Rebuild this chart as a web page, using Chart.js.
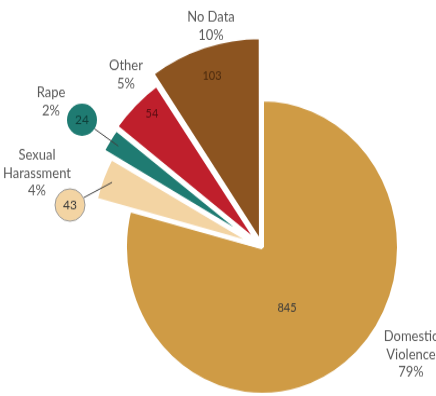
<!DOCTYPE html>
<html>
<head>
<meta charset="utf-8">
<script src="https://cdn.jsdelivr.net/npm/chart.js@4/dist/chart.umd.min.js"></script>
<style>
  html, body { margin: 0; padding: 0; background: #fff; }
  body { width: 436px; height: 396px; overflow: hidden; }
  #wrap { width: 436px; height: 367px; transform: scale(1, 1.079); transform-origin: 0 0; }
</style>
</head>
<body>
<div id="wrap"><canvas id="pie" width="436" height="367"></canvas></div>
<script>
const categories = [["Domestic", "Violence"], ["Sexual", "Harassment"], ["Rape"], ["Other"], ["No Data"]];
const cases = [845, 43, 24, 54, 103];

const sliceColors = ["#CF9B45", "#F3D4A3", "#1F7B72", "#BF1F2C", "#8C5420"];
const valueColors = ["#3a3a3a", "#3a3a3a", "#0e3e39", "#5c0d13", "#4b2a0e"];
const sliceReach = [137, 166, 176, 178, 190];   // outer radius of each slice, px
const sliceOffset = [0, 14, 14, 14, 14];
// text placement, relative to the pie centre
const nameAt = [[149, 83], [-225, -85], [-211, -143], [-136, -168], [-51, -213]];
const valueAt = [[25, 56], [-192, -39], [-180, -118], [-110, -124], [-50, -159]];
const bubble = [false, true, true, false, false];

const total = cases.reduce((a, b) => a + b, 0);

const reach = {
  id: "reach",
  afterDatasetUpdate(chart, args) {
    args.meta.data.forEach((arc, i) => { arc.outerRadius = sliceReach[i]; });
  }
};

const labels = {
  id: "labels",
  afterDatasetsDraw(chart) {
    const ctx = chart.ctx;
    const arcs = chart.getDatasetMeta(0).data;
    ctx.save();
    ctx.textAlign = "center";
    ctx.textBaseline = "middle";
    arcs.forEach((arc, i) => {
      const cx = arc.x, cy = arc.y;
      // category name + share
      const lines = [...categories[i], Math.round(cases[i] / total * 100) + "%"];
      ctx.font = "13px Lato";
      ctx.fillStyle = "#5a5a5a";
      lines.forEach((t, k) => ctx.fillText(t, cx + nameAt[i][0], cy + nameAt[i][1] + k * 16.5));

      const vx = cx + valueAt[i][0], vy = cy + valueAt[i][1];
      if (bubble[i]) {
        const mid = (arc.startAngle + arc.endAngle) / 2;
        const d = arc.outerRadius - 8 + sliceOffset[i] / 4;
        const tx = cx + Math.cos(mid) * d, ty = cy + Math.sin(mid) * d;
        const a = Math.atan2(ty - vy, tx - vx);
        ctx.beginPath();
        ctx.moveTo(vx + Math.cos(a) * 15, vy + Math.sin(a) * 15);
        ctx.lineTo(tx, ty);
        ctx.strokeStyle = "#404040";
        ctx.lineWidth = 1;
        ctx.stroke();
        ctx.beginPath();
        ctx.arc(vx, vy, 15, 0, Math.PI * 2);
        ctx.fillStyle = sliceColors[i];
        ctx.fill();
        if (i === 1) { ctx.strokeStyle = "#9a9a9a"; ctx.stroke(); }
      }
      ctx.font = (bubble[i] ? "12px" : "11px") + " Lato";
      ctx.fillStyle = valueColors[i];
      ctx.fillText(String(cases[i]), vx, vy);
    });
    ctx.restore();
  }
};

new Chart(document.getElementById("pie"), {
  type: "pie",
  data: {
    labels: categories.map(c => c.join(" ")),
    datasets: [{
      data: cases,
      backgroundColor: sliceColors,
      borderColor: "#ffffff",
      borderWidth: 4,
      offset: sliceOffset,
      clip: false
    }]
  },
  options: {
    responsive: false,
    animation: false,
    events: [],
    radius: 137,
    layout: { padding: { left: 88, right: 0, top: 91, bottom: 0 } },
    plugins: { legend: { display: false }, tooltip: { enabled: false } }
  },
  plugins: [reach, labels]
});
</script>
</body>
</html>
